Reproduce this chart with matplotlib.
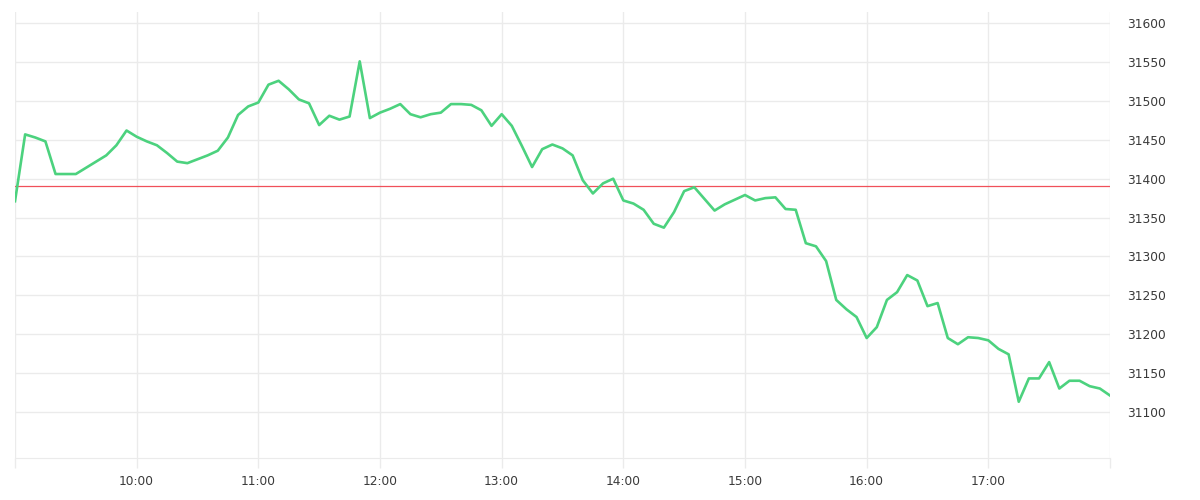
import matplotlib
matplotlib.use("Agg")
import matplotlib.pyplot as plt
import matplotlib.dates as mdates
import pandas as pd

# 5-minute prices, 09:00 -> 18:00
prices = [
    31371, 31457, 31453, 31448, 31406, 31406, 31406, 31414, 31422, 31430, 31443, 31462,  # 9:00-9:55
    31454, 31448, 31443, 31433, 31422, 31420, 31425, 31430, 31436, 31453, 31482, 31493,  # 10
    31498, 31521, 31526, 31515, 31502, 31497, 31469, 31481, 31476, 31480, 31551, 31478,  # 11
    31485, 31490, 31496, 31483, 31479, 31483, 31485, 31496, 31496, 31495, 31488, 31468,  # 12
    31483, 31468, 31442, 31415, 31438, 31444, 31439, 31430, 31398, 31381, 31394, 31400,  # 13
    31372, 31368, 31360, 31342, 31337, 31357, 31384, 31389, 31374, 31359, 31367, 31373,  # 14
    31379, 31372, 31375, 31376, 31361, 31360, 31317, 31313, 31294, 31244, 31232, 31222,  # 15
    31195, 31209, 31244, 31254, 31276, 31269, 31236, 31240, 31195, 31187, 31196, 31195,  # 16
    31192, 31181, 31174, 31113, 31143, 31143, 31164, 31130, 31140, 31140, 31133, 31130,  # 17
    31121,
]
prev_close = 31390
y_ticks = [31100, 31150, 31200, 31250, 31300, 31350, 31400, 31450, 31500, 31550, 31600]
tick_labels = ["10:00", "11:00", "12:00", "13:00", "14:00", "15:00", "16:00", "17:00"]

times = pd.date_range("2024-01-02 09:00", "2024-01-02 18:00", freq="5min")
hours = pd.date_range("2024-01-02 09:00", "2024-01-02 18:00", freq="60min")

grid_c = "#ebebeb"

fig = plt.figure(figsize=(12, 5), dpi=100)
ax = fig.add_axes([0.0125, 0.084, 0.9125, 0.892])

ax.plot(times, prices, color="#4cd27e", lw=1.9, zorder=3)
ax.axhline(prev_close, color="#f0505a", lw=0.9, zorder=2)

ax.set_xlim(times[0], times[-1])
ax.set_ylim(31040.6, 31614.5)

ax.set_xticks(hours)
ax.set_xticklabels([""] + tick_labels + [""])
ax.set_yticks(y_ticks)
ax.yaxis.tick_right()
ax.grid(True, color=grid_c, lw=1.0)

for s in ["top", "right", "left"]:
    ax.spines[s].set_visible(False)
ax.spines["bottom"].set_color(grid_c)

ax.tick_params(axis="x", length=7.2, width=1.0, color=grid_c, pad=5,
               labelsize=8.8, labelcolor="#3a3a3a")
ax.tick_params(axis="y", length=0, pad=12.5, labelsize=8.8, labelcolor="#3a3a3a")

fig.savefig("out.png", dpi=100, facecolor="white")
